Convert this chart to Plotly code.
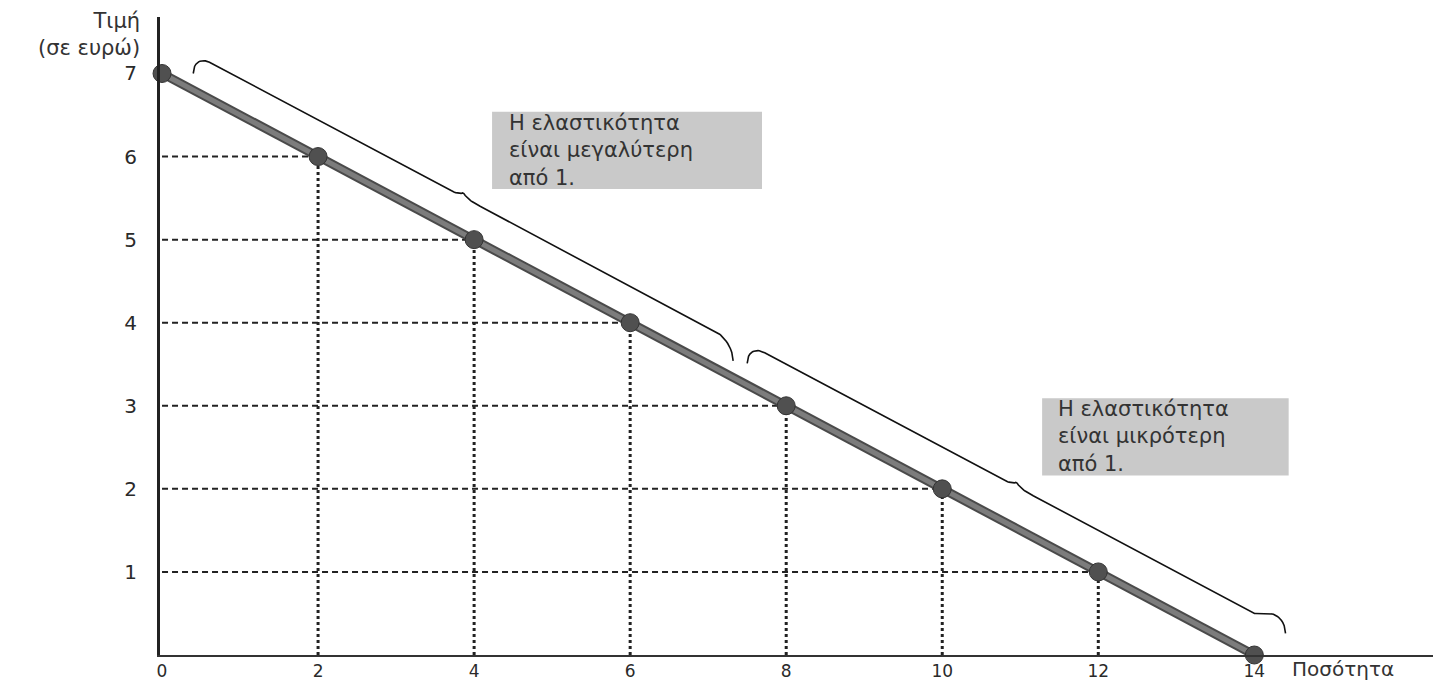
import numpy as np
import plotly.graph_objects as go

# Demand schedule (quantity, price)
quantity = [0, 2, 4, 6, 8, 10, 12, 14]
price = [7, 6, 5, 4, 3, 2, 1, 0]

x_ticks = [0, 2, 4, 6, 8, 10, 12, 14]
y_ticks = [1, 2, 3, 4, 5, 6, 7]

box_text_elastic = "Η ελαστικότητα<br>είναι μεγαλύτερη<br>από 1."
box_text_inelastic = "Η ελαστικότητα<br>είναι μικρότερη<br>από 1."
x_title = "Ποσότητα"
y_title = "Τιμή<br>(σε ευρώ)"

FONT = "DejaVu Sans"


def demand(q):
    return np.interp(q, quantity, price)


def brace(q0, q1, base, hook=0.24, k=0.22, tip=0.07, kt=0.18, n=400):
    u = np.linspace(0, 1, n)
    L = q1 - q0
    q = q0 + u * L
    off = np.full(n, base)
    for d in (u * L, (1 - u) * L):
        m = d < k
        off[m] -= hook * (1 - np.sqrt(1 - (1 - d[m] / k) ** 2))
    dm = np.abs(u - 0.5) * L
    m = dm < kt
    off[m] += tip * (1 - np.sqrt(1 - (1 - dm[m] / kt) ** 2))
    return q, demand(q) + off


fig = go.Figure()

hx, hy, vx, vy = [], [], [], []
for q, p in zip(quantity, price):
    if q > 0 and p > 0:
        hx += [0, q, None]
        hy += [p, p, None]
        vx += [q, q, None]
        vy += [0, p, None]
fig.add_trace(go.Scatter(x=hx, y=hy, mode="lines",
                         line=dict(color="#222", width=2, dash="6px,4px"),
                         hoverinfo="skip", showlegend=False))
fig.add_trace(go.Scatter(x=vx, y=vy, mode="lines",
                         line=dict(color="#222", width=3, dash="3px,3px"),
                         hoverinfo="skip", showlegend=False))

for q0, q1, base in [(0.4, 7.32, 0.44), (7.5, 14.4, 0.5)]:
    bq, bp = brace(q0, q1, base)
    fig.add_trace(go.Scatter(x=bq, y=bp, mode="lines",
                             line=dict(color="#111", width=1.6),
                             hoverinfo="skip", showlegend=False, cliponaxis=False))

fig.add_trace(go.Scatter(x=quantity, y=price, mode="lines",
                         line=dict(color="#4a4a4a", width=9),
                         showlegend=False, cliponaxis=False))
fig.add_trace(go.Scatter(x=quantity, y=price, mode="lines",
                         line=dict(color="#7c7c7c", width=5),
                         showlegend=False, cliponaxis=False))
fig.add_trace(go.Scatter(x=quantity, y=price, mode="markers",
                         marker=dict(size=18, color="#505050",
                                     line=dict(color="#333", width=1)),
                         showlegend=False, cliponaxis=False))

fig.add_shape(type="rect", xref="x", yref="y", x0=4.23, x1=7.69, y0=5.61, y1=6.54,
              fillcolor="#c9c9c9", line=dict(width=0), layer="below")
fig.add_shape(type="rect", xref="x", yref="y", x0=11.28, x1=14.44, y0=2.16, y1=3.09,
              fillcolor="#c9c9c9", line=dict(width=0), layer="below")

for txt, qx, yy in [(box_text_elastic, 4.42, 6.075), (box_text_inelastic, 11.46, 2.625)]:
    fig.add_annotation(x=qx, y=yy, xref="x", yref="y", text=txt,
                       showarrow=False, xanchor="left", yanchor="middle", align="left",
                       font=dict(family=FONT, size=21, color="#333"))

fig.add_annotation(x=14.46, y=0, xref="x", yref="paper", text=x_title,
                   showarrow=False, xanchor="left", yanchor="bottom", yshift=-28,
                   font=dict(family=FONT, size=20, color="#333"))
fig.add_annotation(x=0, y=1, xref="paper", yref="paper", text=y_title,
                   showarrow=False, xanchor="right", yanchor="top", align="right",
                   xshift=-18, yshift=10,
                   font=dict(family=FONT, size=21, color="#333"))

fig.update_layout(
    width=1433, height=676,
    margin=dict(l=152, r=8, t=9, b=29, autoexpand=False),
    paper_bgcolor="white", plot_bgcolor="white",
    font=dict(family=FONT, size=20, color="#333"),
    xaxis=dict(range=[-0.026, 16.29], tickvals=x_ticks, ticks="", showgrid=False,
               zeroline=False, showline=True, linecolor="#333", linewidth=2,
               automargin=False,
               ticklabelstandoff=0, tickfont=dict(family=FONT, size=17, color="#2a2a2a")),
    yaxis=dict(range=[0, 7.68], tickvals=y_ticks, ticks="", showgrid=False,
               zeroline=False, showline=True, linecolor="#222", linewidth=3,
               automargin=False,
               ticklabelstandoff=16, tickfont=dict(family=FONT, size=20, color="#2a2a2a")),
)

fig.write_html("out.html")
